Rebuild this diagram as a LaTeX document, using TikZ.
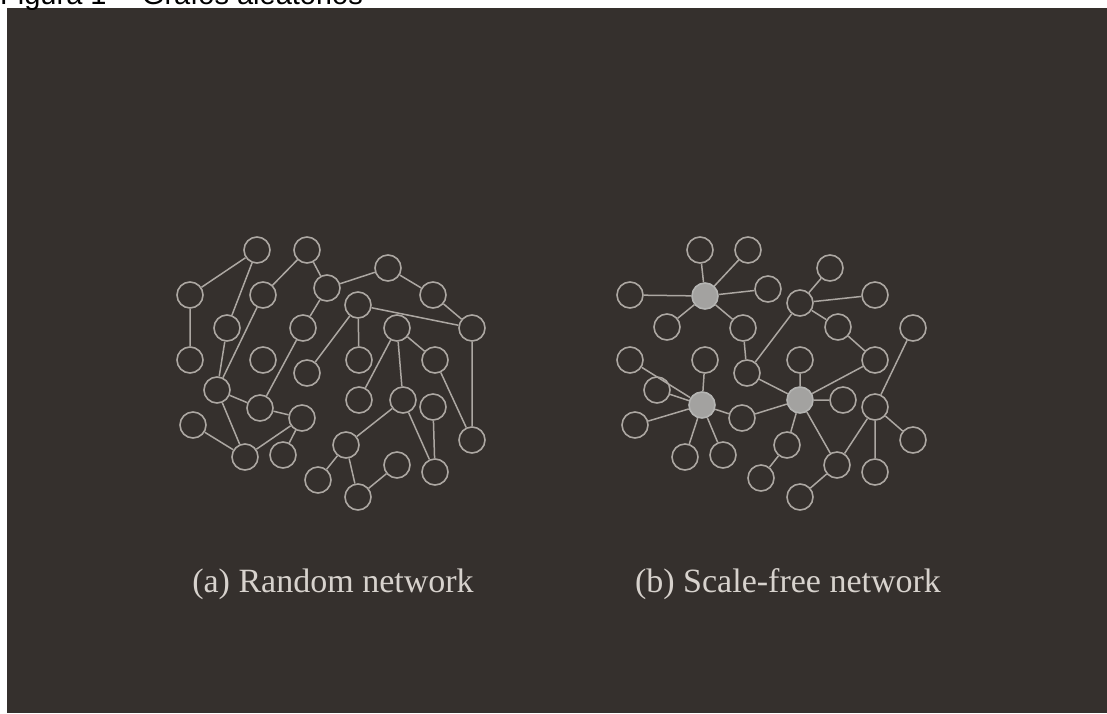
\documentclass[tikz,border=0pt]{standalone}
\usepackage{fontspec}
\setmainfont{Liberation Serif}
\newfontfamily\figsans{Liberation Sans}
\usetikzlibrary{positioning}
\definecolor{bg_dark}{RGB}{53,48,45}
\definecolor{net_line}{RGB}{172,167,162}
\definecolor{hub_fill}{RGB}{163,162,160}
\definecolor{cap_text}{RGB}{215,210,205}
\tikzstyle{net_node} = [circle, draw=net_line, line width=1.6pt, minimum size=26pt, inner sep=0pt]
\tikzstyle{hub_node} = [net_node, fill=hub_fill, draw=hub_fill!80!white]
\tikzstyle{net_edge} = [draw=net_line, line width=1.5pt]
\tikzstyle{net_caption} = [text=cap_text, font=\fontsize{34}{40}\selectfont, inner sep=0pt]

\begin{document}
\begin{tikzpicture}[x=1pt, y=-1pt]
\useasboundingbox (0,0) rectangle (1107,713);
\fill[white] (0,0) rectangle (1107,713);
\fill[bg_dark] (7,8) rectangle (1107,713);
\node (fig_title) [anchor=base west, inner sep=0pt, font=\figsans\fontsize{29}{34}\selectfont] at (0,4) {Figura 1 -- Grafos aleatórios};

% (a) random network
\node (a1) [net_node] at (257,250) {};
\node (a2) [net_node] at (307,250) {};
\node (a3) [net_node] at (190,295) {};
\node (a4) [net_node] at (263,295) {};
\node (a5) [net_node] at (327,288) {};
\node (a6) [net_node] at (388,268) {};
\node (a7) [net_node] at (358,305) {};
\node (a8) [net_node] at (433,295) {};
\node (a9) [net_node] at (227,328) {};
\node (a10) [net_node] at (303,328) {};
\node (a11) [net_node] at (397,328) {};
\node (a12) [net_node] at (472,328) {};
\node (a13) [net_node] at (190,360) {};
\node (a14) [net_node] at (263,360) {};
\node (a15) [net_node] at (359,360) {};
\node (a16) [net_node] at (435,360) {};
\node (a17) [net_node] at (217,390) {};
\node (a18) [net_node] at (307,373) {};
\node (a19) [net_node] at (359,400) {};
\node (a20) [net_node] at (260,408) {};
\node (a21) [net_node] at (302,418) {};
\node (a22) [net_node] at (403,400) {};
\node (a23) [net_node] at (433,407) {};
\node (a24) [net_node] at (193,425) {};
\node (a25) [net_node] at (245,457) {};
\node (a26) [net_node] at (283,455) {};
\node (a27) [net_node] at (346,445) {};
\node (a28) [net_node] at (472,440) {};
\node (a29) [net_node] at (397,465) {};
\node (a30) [net_node] at (435,472) {};
\node (a31) [net_node] at (318,480) {};
\node (a32) [net_node] at (358,497) {};

\draw [net_edge] (a1) -- (a3) (a1) -- (a9) (a2) -- (a4) (a2) -- (a5) (a3) -- (a13);
\draw [net_edge] (a4) -- (a17) (a9) -- (a17) (a5) -- (a10) (a10) -- (a20) (a5) -- (a6);
\draw [net_edge] (a6) -- (a8) (a8) -- (a12) (a7) -- (a12) (a7) -- (a15) (a7) -- (a18);
\draw [net_edge] (a11) -- (a16) (a11) -- (a19) (a11) -- (a22) (a16) -- (a28) (a12) -- (a28);
\draw [net_edge] (a23) -- (a30) (a22) -- (a30) (a17) -- (a20) (a17) -- (a25) (a20) -- (a21);
\draw [net_edge] (a21) -- (a25) (a21) -- (a26) (a24) -- (a25) (a27) -- (a31) (a27) -- (a32);
\draw [net_edge] (a32) -- (a29) (a27) -- (a22);

% (b) scale-free network
\node (h1) [hub_node] at (705,296) {};
\node (h2) [hub_node] at (800,400) {};
\node (h3) [hub_node] at (702,405) {};
\node (b1) [net_node] at (700,250) {};
\node (b2) [net_node] at (748,250) {};
\node (b3) [net_node] at (630,295) {};
\node (b4) [net_node] at (768,289) {};
\node (b5) [net_node] at (830,268) {};
\node (b6) [net_node] at (800,303) {};
\node (b7) [net_node] at (875,295) {};
\node (b8) [net_node] at (667,327) {};
\node (b9) [net_node] at (743,328) {};
\node (b10) [net_node] at (838,327) {};
\node (b11) [net_node] at (913,328) {};
\node (b12) [net_node] at (630,360) {};
\node (b13) [net_node] at (705,360) {};
\node (b14) [net_node] at (800,360) {};
\node (b15) [net_node] at (875,360) {};
\node (b16) [net_node] at (747,373) {};
\node (b17) [net_node] at (657,390) {};
\node (b18) [net_node] at (742,418) {};
\node (b19) [net_node] at (843,400) {};
\node (b20) [net_node] at (875,407) {};
\node (b21) [net_node] at (635,425) {};
\node (b22) [net_node] at (913,440) {};
\node (b23) [net_node] at (787,445) {};
\node (b24) [net_node] at (685,457) {};
\node (b25) [net_node] at (723,455) {};
\node (b26) [net_node] at (837,465) {};
\node (b27) [net_node] at (875,472) {};
\node (b28) [net_node] at (761,478) {};
\node (b29) [net_node] at (800,497) {};

\draw [net_edge] (h1) -- (b1) (h1) -- (b2) (h1) -- (b3) (h1) -- (b4) (h1) -- (b8) (h1) -- (b9);
\draw [net_edge] (h3) -- (b12) (h3) -- (b13) (h3) -- (b17) (h3) -- (b18) (h3) -- (b21) (h3) -- (b24) (h3) -- (b25);
\draw [net_edge] (h2) -- (b14) (h2) -- (b15) (h2) -- (b16) (h2) -- (b18) (h2) -- (b19) (h2) -- (b23) (h2) -- (b26);
\draw [net_edge] (b9) -- (b16) (b16) -- (b6) (b6) -- (b5) (b6) -- (b7) (b6) -- (b10) (b10) -- (b15);
\draw [net_edge] (b23) -- (b28) (b26) -- (b29) (b20) -- (b11) (b20) -- (b22) (b20) -- (b27) (b20) -- (b26);

\node (cap_a) [net_caption] at (333,584) {(a) Random network};
\node (cap_b) [net_caption] at (788,584) {(b) Scale-free network};
\end{tikzpicture}
\end{document}
